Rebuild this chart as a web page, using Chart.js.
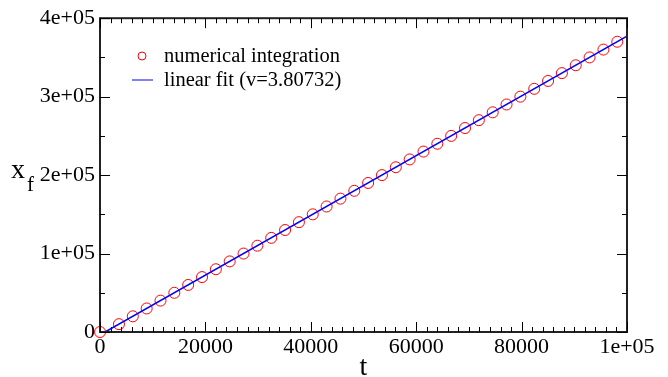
<!DOCTYPE html>
<html>
<head>
<meta charset="utf-8">
<script src="https://cdn.jsdelivr.net/npm/chart.js@4"></script>
<style>
    html, body { margin: 0; padding: 0; background: #fff; }
    #wrap { width: 668px; height: 377px; position: relative; }
</style>
</head>
<body>
<div id="wrap"><canvas id="chart"></canvas></div>
<script>
// numerical integration: front position x_f reached at time t
const intT = [0, 3600, 6227, 8853, 11480, 14106, 16733, 19359, 21986, 24612,
    27239, 29865, 32492, 35118, 37745, 40371, 42998, 45624, 48251, 50877,
    53504, 56130, 58757, 61383, 64010, 66636, 69263, 71889, 74516, 77142,
    79769, 82395, 85022, 87648, 90275, 92901, 95528, 98154]
const intX = [0, 10000, 20000, 30000, 40000, 50000, 60000, 70000, 80000, 90000,
    100000, 110000, 120000, 130000, 140000, 150000, 160000, 170000, 180000, 190000,
    200000, 210000, 220000, 230000, 240000, 250000, 260000, 270000, 280000, 290000,
    300000, 310000, 320000, 330000, 340000, 350000, 360000, 370000]

// linear fit end points
const fitT = [972, 100000]
const fitX = [0, 377032]

const xTicks = [0, 20000, 40000, 60000, 80000, 100000]
const yTicks = [0, 100000, 200000, 300000, 400000]
const xMinorStep = 2000
const yMinorStep = 50000

const labels = ['numerical integration', 'linear fit (v=3.80732)']

const FONT = "'Liberation Serif', 'DejaVu Serif', serif"

function fmt(v) {
    if (v === 0) return '0'
    if (v >= 100000) return (v / 100000) + 'e+05'
    return String(v)
}

const frameTicks = {
    id: 'frameTicks',
    afterDatasetsDraw(chart) {
        const { ctx, chartArea: a, scales: { x, y } } = chart
        ctx.save()
        ctx.strokeStyle = '#222'
        ctx.lineWidth = 2
        ctx.strokeRect(a.left, a.top, a.right - a.left, a.bottom - a.top)
        ctx.lineWidth = 1
        ctx.strokeStyle = '#000'
        ctx.beginPath()
        for (let v = x.min; v <= x.max; v += xMinorStep) {
            const px = Math.round(x.getPixelForValue(v)) + 0.5
            const len = xTicks.includes(v) ? 10 : 5
            ctx.moveTo(px, a.bottom); ctx.lineTo(px, a.bottom - len)
            ctx.moveTo(px, a.top); ctx.lineTo(px, a.top + len)
        }
        for (let v = y.min; v <= y.max; v += yMinorStep) {
            const py = Math.round(y.getPixelForValue(v)) + 0.5
            const len = yTicks.includes(v) ? 10 : 5
            ctx.moveTo(a.left, py); ctx.lineTo(a.left + len, py)
            ctx.moveTo(a.right, py); ctx.lineTo(a.right - len, py)
        }
        ctx.stroke()

        // legend inside the plot
        ctx.strokeStyle = '#ff0000'
        ctx.beginPath()
        ctx.arc(142, 56, 4, 0, Math.PI * 2)
        ctx.stroke()
        ctx.strokeStyle = '#5555ff'
        ctx.lineWidth = 1.5
        ctx.beginPath()
        ctx.moveTo(132, 80); ctx.lineTo(153, 80)
        ctx.stroke()
        ctx.fillStyle = '#000'
        ctx.font = '20.5px ' + FONT
        ctx.textBaseline = 'alphabetic'
        ctx.fillText(labels[0], 164, 62)
        ctx.fillText(labels[1], 164, 86)

        // axis titles
        ctx.font = '28px ' + FONT
        ctx.textAlign = 'center'
        ctx.fillText('t', (a.left + a.right) / 2, 375)
        ctx.textAlign = 'left'
        ctx.fillText('x', 11, 178)
        ctx.font = '21px ' + FONT
        ctx.fillText('f', 27, 191)
        ctx.restore()
    }
}

new Chart(document.getElementById('chart'), {
    type: 'scatter',
    data: {
        datasets: [{
            label: labels[0],
            data: intT.map((t, i) => ({ x: t, y: intX[i] })),
            pointStyle: 'circle',
            pointRadius: 5.5,
            pointBorderWidth: 1,
            pointBorderColor: '#ff0000',
            pointBackgroundColor: 'rgba(0,0,0,0)',
            showLine: false,
            clip: false,
            order: 2
        }, {
            label: labels[1],
            data: fitT.map((t, i) => ({ x: t, y: fitX[i] })),
            showLine: true,
            borderColor: '#0000ff',
            borderWidth: 1.5,
            pointRadius: 0,
            order: 1
        }]
    },
    options: {
        responsive: true,
        maintainAspectRatio: false,
        animation: false,
        layout: { padding: { top: 15, right: 41, left: 0, bottom: 0 } },
        plugins: { legend: { display: false }, tooltip: { enabled: false } },
        scales: {
            x: {
                type: 'linear',
                min: 0, max: 100000,
                afterBuildTicks: (s) => { s.ticks = xTicks.map(v => ({ value: v })) },
                afterFit: (s) => { s.height = 45 },
                grid: { display: false, drawTicks: false },
                border: { display: false },
                ticks: {
                    color: '#000', padding: 2,
                    font: { family: FONT, size: 22 },
                    maxRotation: 0, autoSkip: false,
                    callback: (v) => fmt(v)
                }
            },
            y: {
                type: 'linear',
                min: 0, max: 400000,
                afterBuildTicks: (s) => { s.ticks = yTicks.map(v => ({ value: v })) },
                afterFit: (s) => { s.width = 100 },
                grid: { display: false, drawTicks: false },
                border: { display: false },
                ticks: {
                    color: '#000', padding: 5,
                    font: { family: FONT, size: 22 },
                    autoSkip: false,
                    callback: (v) => fmt(v)
                }
            }
        }
    },
    plugins: [frameTicks]
})
</script>
</body>
</html>
